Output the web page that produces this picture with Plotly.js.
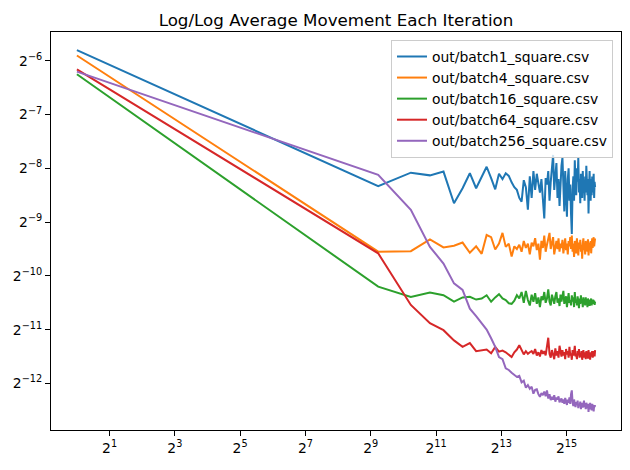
<!DOCTYPE html>
<html>
<head>
<meta charset="utf-8">
<script src="https://cdn.plot.ly/plotly-3.0.1.min.js"></script>
<style>html,body{margin:0;padding:0;background:#fff;}#chart{width:630px;height:470px;}</style>
</head>
<body>
<div id="chart"></div>
<script>
// Iteration numbers (x)
const iterations = [1,600,1200,1800,2400,3000,3600,4200,4800,5400,6000,6600,7200,7800,8400,9000,9600,10200,10800,11400,12000,12600,13200,13800,14400,15000,15600,16200,16800,17400,18000,18600,19200,19800,20400,21000,21600,22200,22800,23400,24000,24600,25200,25800,26400,27000,27600,28200,28800,29400,30000,30600,31200,31800,32400,33000,33600,34200,34800,35400,36000,36600,37200,37800,38400,39000,39600,40200,40800,41400,42000,42600,43200,43800,44400,45000,45600,46200,46800,47400,48000,48600,49200,49800,50400,51000,51600,52200,52800,53400,54000,54600,55200,55800,56400,57000,57600,58200,58800,59400,60000];

// Average movement, expressed as log2 exponents
const batch1Log2 = [-5.80,-8.33,-8.08,-8.13,-8.06,-8.65,-8.37,-8.09,-8.37,-8.17,-7.97,-8.18,-8.39,-8.10,-8.20,-8.09,-8.14,-8.26,-8.35,-8.40,-8.55,-8.62,-8.22,-8.35,-8.77,-8.15,-8.55,-8.05,-8.40,-8.10,-8.30,-8.45,-8.20,-8.50,-8.93,-8.18,-8.30,-8.05,-8.60,-8.25,-8.00,-7.75,-8.40,-8.10,-7.90,-8.55,-8.20,-8.70,-8.15,-7.95,-7.80,-8.35,-8.80,-8.05,-8.45,-8.90,-8.20,-8.00,-8.60,-8.30,-8.85,-9.22,-8.40,-8.15,-8.60,-7.85,-8.30,-8.50,-8.00,-8.25,-7.80,-8.45,-8.20,-8.65,-8.10,-8.35,-8.55,-8.05,-8.40,-8.25,-8.60,-8.15,-8.45,-7.95,-8.30,-8.50,-8.20,-8.84,-8.35,-8.05,-8.40,-8.60,-8.20,-8.50,-8.15,-8.45,-8.30,-8.10,-8.55,-8.25,-8.35];
const batch4Log2 = [-5.90,-9.55,-9.54,-9.32,-9.47,-9.44,-9.38,-9.57,-9.45,-9.59,-9.24,-9.28,-9.51,-9.40,-9.20,-9.46,-9.40,-9.64,-9.45,-9.50,-9.42,-9.55,-9.35,-9.48,-9.40,-9.60,-9.38,-9.45,-9.30,-9.52,-9.40,-9.70,-9.35,-9.48,-9.25,-9.55,-9.42,-9.30,-9.20,-9.50,-9.38,-9.28,-9.60,-9.45,-9.35,-9.50,-9.30,-9.55,-9.40,-9.48,-9.33,-9.58,-9.42,-9.30,-9.52,-9.40,-9.60,-9.35,-9.45,-9.28,-9.50,-9.25,-9.55,-9.40,-9.65,-9.35,-9.48,-9.58,-9.30,-9.45,-9.62,-9.38,-9.50,-9.33,-9.55,-9.42,-9.68,-9.40,-9.30,-9.52,-9.45,-9.60,-9.35,-9.48,-9.40,-9.55,-9.32,-9.62,-9.45,-9.38,-9.50,-9.35,-9.58,-9.42,-9.30,-9.48,-9.40,-9.28,-9.45,-9.35,-9.30];
const batch16Log2 = [-6.25,-10.20,-10.39,-10.31,-10.36,-10.48,-10.40,-10.39,-10.44,-10.42,-10.36,-10.48,-10.40,-10.34,-10.42,-10.45,-10.51,-10.52,-10.46,-10.36,-10.42,-10.30,-10.50,-10.28,-10.45,-10.55,-10.35,-10.48,-10.32,-10.52,-10.40,-10.58,-10.38,-10.45,-10.30,-10.50,-10.42,-10.25,-10.48,-10.55,-10.35,-10.45,-10.52,-10.38,-10.30,-10.50,-10.42,-10.56,-10.35,-10.48,-10.40,-10.28,-10.52,-10.45,-10.38,-10.58,-10.42,-10.32,-10.50,-10.45,-10.55,-10.36,-10.48,-10.40,-10.58,-10.30,-10.50,-10.44,-10.55,-10.38,-10.48,-10.60,-10.42,-10.52,-10.36,-10.50,-10.45,-10.58,-10.40,-10.52,-10.46,-10.55,-10.40,-10.50,-10.44,-10.58,-10.42,-10.52,-10.48,-10.56,-10.44,-10.50,-10.42,-10.55,-10.46,-10.52,-10.44,-10.50,-10.46,-10.54,-10.48];
const batch64Log2 = [-6.16,-9.58,-10.54,-10.88,-11.01,-11.20,-11.32,-11.25,-11.40,-11.38,-11.37,-11.44,-11.32,-11.41,-11.39,-11.42,-11.46,-11.51,-11.42,-11.37,-11.29,-11.38,-11.46,-11.40,-11.45,-11.42,-11.40,-11.45,-11.36,-11.48,-11.42,-11.50,-11.38,-11.45,-11.40,-11.48,-11.35,-11.15,-11.45,-11.52,-11.38,-11.46,-11.55,-11.35,-11.48,-11.40,-11.52,-11.30,-11.45,-11.50,-11.38,-11.48,-11.42,-11.55,-11.36,-11.46,-11.40,-11.52,-11.32,-11.48,-11.44,-11.56,-11.38,-11.48,-11.42,-11.30,-11.50,-11.45,-11.55,-11.40,-11.48,-11.36,-11.52,-11.44,-11.50,-11.40,-11.56,-11.45,-11.38,-11.52,-11.46,-11.42,-11.55,-11.40,-11.48,-11.44,-11.54,-11.38,-11.50,-11.45,-11.56,-11.42,-11.50,-11.46,-11.40,-11.52,-11.44,-11.48,-11.40,-11.50,-11.38];
const batch256Log2 = [-6.20,-8.12,-8.77,-9.46,-9.77,-10.14,-10.26,-10.61,-10.75,-10.88,-11.00,-11.16,-11.32,-11.51,-11.55,-11.72,-11.75,-11.80,-11.85,-11.88,-11.86,-11.98,-11.95,-12.08,-12.03,-12.10,-12.06,-12.19,-12.12,-12.11,-12.20,-12.25,-12.18,-12.22,-12.15,-12.24,-12.13,-12.28,-12.20,-12.31,-12.25,-12.30,-12.22,-12.34,-12.26,-12.30,-12.24,-12.35,-12.31,-12.28,-12.36,-12.30,-12.38,-12.27,-12.33,-12.40,-12.30,-12.36,-12.26,-12.38,-12.20,-12.13,-12.35,-12.42,-12.30,-12.38,-12.44,-12.35,-12.40,-12.32,-12.46,-12.38,-12.42,-12.34,-12.48,-12.40,-12.36,-12.45,-12.38,-12.32,-12.44,-12.40,-12.48,-12.36,-12.42,-12.46,-12.38,-12.53,-12.40,-12.45,-12.36,-12.48,-12.42,-12.50,-12.38,-12.46,-12.40,-12.52,-12.41,-12.44,-12.40];

const seriesNames = ["out/batch1_square.csv","out/batch4_square.csv","out/batch16_square.csv","out/batch64_square.csv","out/batch256_square.csv"];
const seriesLog2 = [batch1Log2, batch4Log2, batch16Log2, batch64Log2, batch256Log2];
const colors = ["#1f77b4","#ff7f0e","#2ca02c","#d62728","#9467bd"];

const xTickExp = [1,3,5,7,9,11,13,15];
const yTickExp = [-6,-7,-8,-9,-10,-11,-12];

const traces = seriesLog2.map((s, i) => ({
  type: "scatter", mode: "lines", name: seriesNames[i],
  x: iterations, y: s.map(e => Math.pow(2, e)),
  line: {color: colors[i], width: 2}
}));

// matplotlib-style 5% margins, in log space
const L2 = Math.log10(2);
const xe = iterations.map(v => Math.log2(v));
const ye = [].concat(...seriesLog2);
function pad(a){ const mn = Math.min(...a), mx = Math.max(...a), d = (mx - mn) * 0.05; return [(mn - d) * L2, (mx + d) * L2]; }

const font = {family: "DejaVu Sans, sans-serif", size: 13.9, color: "#000"};
const axisCommon = {
  type: "log", showgrid: false, zeroline: false, showline: true, mirror: true,
  linecolor: "#000", linewidth: 1, ticks: "outside", ticklen: 5, tickwidth: 1, tickcolor: "#000",
  tickfont: font
};

const layout = {
  width: 630, height: 470,
  margin: {l: 51, r: 9, t: 32, b: 40},
  paper_bgcolor: "#fff", plot_bgcolor: "#fff",
  font: font,
  title: {text: "Log/Log Average Movement Each Iteration", font: {family: "DejaVu Sans, sans-serif", size: 16.7, color: "#000"},
          x: 0.5, xref: "paper", y: 1, yref: "paper", yanchor: "bottom", pad: {b: 6}},
  xaxis: Object.assign({}, axisCommon, {range: pad(xe), tickvals: xTickExp.map(e => Math.pow(2, e)),
          ticktext: xTickExp.map(e => "2<sup>" + e + "</sup>")}),
  yaxis: Object.assign({}, axisCommon, {range: pad(ye), tickvals: yTickExp.map(e => Math.pow(2, e)),
          ticktext: yTickExp.map(e => "2<sup>\u2212" + (-e) + "</sup>")}),
  legend: {x: 0.986, xanchor: "right", y: 0.98, yanchor: "top", bgcolor: "rgba(255,255,255,0.8)",
           bordercolor: "#cccccc", borderwidth: 1, font: font},
  showlegend: true
};

Plotly.newPlot("chart", traces, layout, {displayModeBar: false, staticPlot: true});
</script>
</body>
</html>
